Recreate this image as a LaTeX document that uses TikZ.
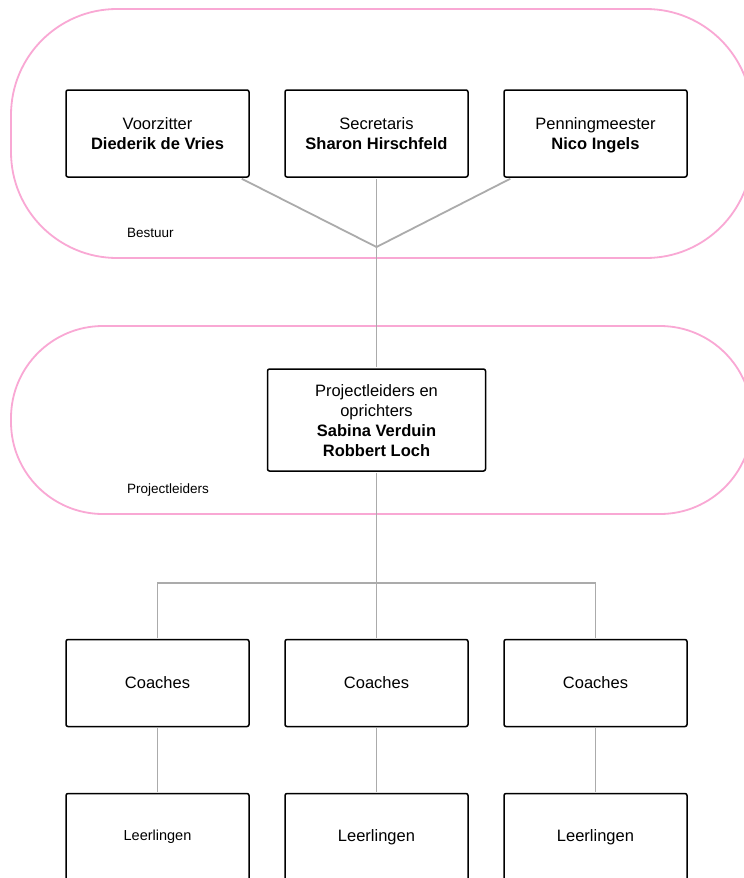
\documentclass[tikz,border=0pt]{standalone}
\usepackage{fontspec}
\setmainfont{Liberation Sans}
\usetikzlibrary{calc}
\definecolor{pinkline}{HTML}{F9A8D4}
\definecolor{conn}{HTML}{ABABAB}
\newcommand\ystrut{\rule{0pt}{16pt}\rule[-4pt]{0pt}{4pt}}
\begin{document}
\begin{tikzpicture}[x=1pt,y=-1pt,
  box/.style={draw=black,line width=1.5pt,rounded corners=2pt,fill=white,
    minimum width=183pt,minimum height=87pt,align=center,inner sep=0pt,
    font=\fontsize{16.5}{20}\selectfont},
  grp/.style={draw=pinkline,line width=1.8pt},
  lbl/.style={font=\fontsize{13.5}{16}\selectfont,anchor=west,inner sep=0pt},
  link/.style={draw=conn,line width=1.8pt}]
\useasboundingbox (0,0) rectangle (744,878);
\fill[white] (0,0) rectangle (744,878);
% groups
\draw[grp,rounded corners=106pt] (11,9) rectangle (752,258);
\draw[grp,rounded corners=92pt] (11,326) rectangle (752,514);
\node[lbl] (lb) at (127,233) {Bestuur};
\node[lbl] (lp) at (127,490) {Projectleiders};
% junction coordinates
\coordinate (j) at (376.5,247);
\coordinate (h) at (376.5,583);
% boxes
\node[box] (v) at (157.5,133.5) {\ystrut Voorzitter\\\ystrut\textbf{Diederik de Vries}};
\node[box] (s) at (376.5,133.5) {\ystrut Secretaris\\\ystrut\textbf{Sharon Hirschfeld}};
\node[box] (m) at (595.5,133.5) {\ystrut Penningmeester\\\ystrut\textbf{Nico Ingels}};
\node[box,minimum width=218pt,minimum height=102pt] (p) at (376.5,420) {\ystrut Projectleiders en\\\ystrut oprichters\\\ystrut\textbf{Sabina Verduin}\\\ystrut\textbf{Robbert Loch}};
\node[box] (c1) at (157.5,683) {Coaches};
\node[box] (c2) at (376.5,683) {Coaches};
\node[box] (c3) at (595.5,683) {Coaches};
\node[box] (l1) at (157.5,837) {\fontsize{14.5}{18}\selectfont Leerlingen};
\node[box] (l2) at (376.5,837) {Leerlingen};
\node[box] (l3) at (595.5,837) {Leerlingen};
% connectors
\draw[link] ($(v.south east)+(-8,1)$) -- (j);
\draw[link] ($(m.south west)+(7,1)$) -- (j);
\draw[link] ($(s.south)+(0,1)$) -- (j) -- ($(p.north)+(0,-1)$);
\draw[link] ($(p.south)+(0,1)$) -- (h);
\draw[link] ($(c1.north)+(0,-1)$) -- (c1.north |- h) -- (c3.north |- h) -- ($(c3.north)+(0,-1)$);
\draw[link] (h) -- ($(c2.north)+(0,-1)$);
\draw[link] ($(c1.south)+(0,1)$) -- ($(l1.north)+(0,-1)$);
\draw[link] ($(c2.south)+(0,1)$) -- ($(l2.north)+(0,-1)$);
\draw[link] ($(c3.south)+(0,1)$) -- ($(l3.north)+(0,-1)$);
\end{tikzpicture}
\end{document}
